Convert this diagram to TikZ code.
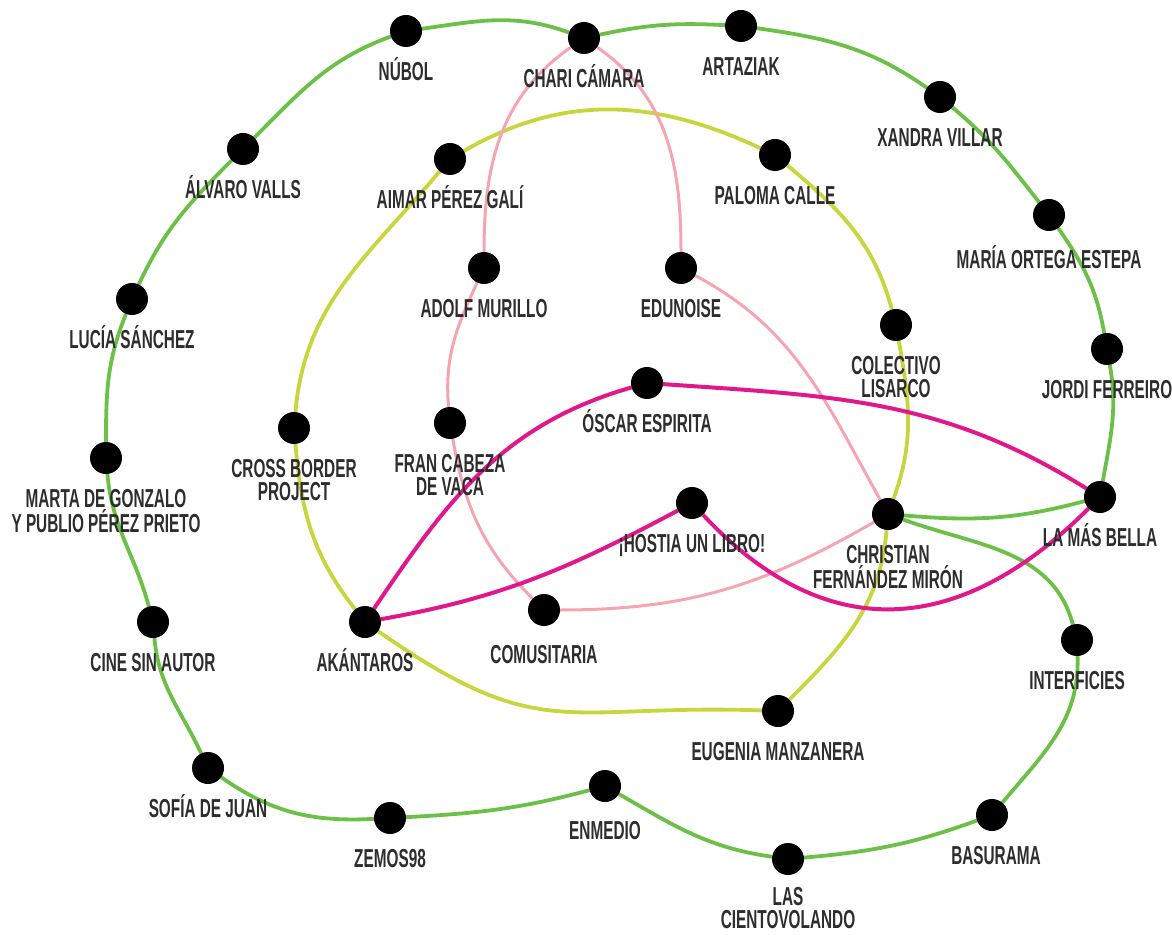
\documentclass[tikz,border=0pt]{standalone}
\usepackage{fontspec}
\newfontfamily\peoplefont{Liberation Sans}[FakeStretch=0.59]
\usetikzlibrary{positioning,backgrounds}
\definecolor{ringgreen}{RGB}{108,192,72}
\definecolor{ringolive}{RGB}{200,214,62}
\definecolor{ringpink}{RGB}{245,165,175}
\definecolor{ringmagenta}{RGB}{224,24,140}
\definecolor{peopletext}{RGB}{45,45,45}
\tikzset{
    dot/.style={circle,fill=black,inner sep=0pt,outer sep=0pt,minimum size=16pt},
    who/.style={anchor=north,inner sep=0pt,text=peopletext,font=\peoplefont\bfseries\fontsize{13}{11.5}\selectfont,text height=9pt,text depth=0pt},
    whotwo/.style={anchor=north,inner sep=0pt,text=peopletext,align=center,font=\peoplefont\bfseries\fontsize{13}{11.5}\selectfont},
    greenring/.style={ringgreen,line width=1.9pt},
    olivering/.style={ringolive,line width=1.9pt},
    pinkring/.style={ringpink,line width=1.5pt},
    magentaring/.style={ringmagenta,line width=2pt}
}
\begin{document}
\begin{tikzpicture}[x=0.5pt,y=0.5pt,node distance=7.5pt]
        \useasboundingbox (0,0) rectangle (1172,-935);
        % Dots
        \node[dot] (nubol) at (406,-31) {};
        \node[dot] (chari) at (584,-38) {};
        \node[dot] (artaziak) at (741,-26) {};
        \node[dot] (xandra) at (940,-97) {};
        \node[dot] (maria) at (1049,-215) {};
        \node[dot] (jordi) at (1107,-349) {};
        \node[dot] (labella) at (1100,-497) {};
        \node[dot] (christian) at (888,-514) {};
        \node[dot] (interficies) at (1077,-640) {};
        \node[dot] (basurama) at (992,-815) {};
        \node[dot] (cientovolando) at (788,-859) {};
        \node[dot] (enmedio) at (605,-786) {};
        \node[dot] (zemos) at (390,-818) {};
        \node[dot] (sofia) at (208,-768) {};
        \node[dot] (cine) at (153,-622) {};
        \node[dot] (marta) at (106,-458) {};
        \node[dot] (lucia) at (132,-299) {};
        \node[dot] (alvaro) at (243,-149) {};
        \node[dot] (aimar) at (450,-159) {};
        \node[dot] (paloma) at (775,-155) {};
        \node[dot] (lisarco) at (896,-325) {};
        \node[dot] (eugenia) at (778,-711) {};
        \node[dot] (akantaros) at (365,-622) {};
        \node[dot] (crossborder) at (294,-428) {};
        \node[dot] (adolf) at (484,-268) {};
        \node[dot] (fran) at (450,-423) {};
        \node[dot] (comusitaria) at (544,-610) {};
        \node[dot] (edunoise) at (681,-268) {};
        \node[dot] (oscar) at (647,-383) {};
        \node[dot] (hostia) at (692,-503) {};
        % Names
        \node[who,below=of nubol] (nubol-n) {NÚBOL};
        \node[who,below=of chari] (chari-n) {CHARI CÁMARA};
        \node[who,below=of artaziak] (artaziak-n) {ARTAZIAK};
        \node[who,below=of xandra] (xandra-n) {XANDRA VILLAR};
        \node[who,below=9.5pt of maria] (maria-n) {MARÍA ORTEGA ESTEPA};
        \node[who,below=of jordi] (jordi-n) {JORDI FERREIRO};
        \node[who,below=of labella] (labella-n) {LA MÁS BELLA};
        \node[whotwo,below=of christian] (christian-n) {CHRISTIAN\\FERNÁNDEZ MIRÓN};
        \node[who,below=of interficies] (interficies-n) {INTERFICIES};
        \node[who,below=of basurama,xshift=2pt] (basurama-n) {BASURAMA};
        \node[whotwo,below=6pt of cientovolando] (cientovolando-n) {LAS\\CIENTOVOLANDO};
        \node[who,below=9.5pt of enmedio] (enmedio-n) {ENMEDIO};
        \node[who,below=of zemos] (zemos-n) {ZEMOS98};
        \node[who,below=of sofia] (sofia-n) {SOFÍA DE JUAN};
        \node[who,below=of cine] (cine-n) {CINE SIN AUTOR};
        \node[whotwo,below=of marta] (marta-n) {MARTA DE GONZALO\\Y PUBLIO PÉREZ PRIETO};
        \node[who,below=of lucia] (lucia-n) {LUCÍA SÁNCHEZ};
        \node[who,below=of alvaro] (alvaro-n) {ÁLVARO VALLS};
        \node[who,below=of aimar] (aimar-n) {AIMAR PÉREZ GALÍ};
        \node[who,below=of paloma] (paloma-n) {PALOMA CALLE};
        \node[whotwo,below=of lisarco] (lisarco-n) {COLECTIVO\\LISARCO};
        \node[who,below=of eugenia] (eugenia-n) {EUGENIA MANZANERA};
        \node[who,below=of akantaros] (akantaros-n) {AKÁNTAROS};
        \node[whotwo,below=of crossborder] (crossborder-n) {CROSS BORDER\\PROJECT};
        \node[who,below=of adolf] (adolf-n) {ADOLF MURILLO};
        \node[whotwo,below=of fran] (fran-n) {FRAN CABEZA\\DE VACA};
        \node[who,below=9.5pt of comusitaria] (comusitaria-n) {COMUSITARIA};
        \node[who,below=of edunoise] (edunoise-n) {EDUNOISE};
        \node[who,below=of oscar] (oscar-n) {ÓSCAR ESPIRITA};
        \node[who,below=of hostia] (hostia-n) {¡HOSTIA UN LIBRO!};
        \begin{scope}[on background layer]
        % Green ring
        \draw[greenring] (nubol) to[out=8,in=160] (chari) to[out=12,in=177] (artaziak)
            to[out=-8,in=145] (xandra) to[out=-40,in=128] (maria) to[out=-55,in=100] (jordi)
            to[out=-80,in=80] (labella) to[out=195,in=-5] (christian);
        \draw[greenring] (christian) to[out=-20,in=105] (interficies) to[out=-88,in=50] (basurama)
            to[out=200,in=5] (cientovolando) to[out=172,in=-30] (enmedio) to[out=195,in=3] (zemos)
            to[out=183,in=-35] (sofia) to[out=115,in=-85] (cine) to[out=105,in=-85] (marta)
            to[out=90,in=-112] (lucia) to[out=65,in=-135] (alvaro) to[out=45,in=-160] (nubol);
        % Olive ring
        \draw[olivering] (aimar) to[out=30,in=155] (paloma) to[out=-40,in=105] (lisarco)
            to[out=-80,in=70] (christian) to[out=-95,in=45] (eugenia) to[out=178,in=-35,looseness=1.3] (akantaros)
            to[out=128,in=-85] (crossborder) to[out=85,in=-130] (aimar);
        % Pink ring
        \draw[pinkring] (chari) to[out=215,in=90] (adolf) to[out=-115,in=95] (fran)
            to[out=-80,in=135] (comusitaria) to[out=0,in=210] (christian)
            to[out=119,in=-28] (edunoise) to[out=90,in=-35] (chari);
        % Magenta ring
        \draw[magentaring] (akantaros) to[out=56,in=196] (oscar) to[out=-4,in=148] (labella)
            to[out=-135,in=-47,looseness=1.2] (hostia) to[out=208,in=10] (akantaros);
        \end{scope}
\end{tikzpicture}
\end{document}
